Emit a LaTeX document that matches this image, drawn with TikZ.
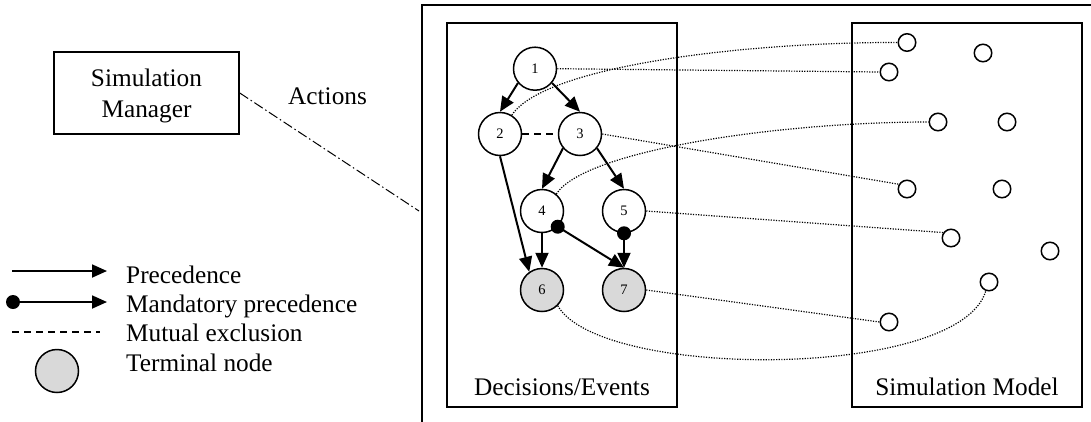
\documentclass[tikz,border=0pt]{standalone}
\usepackage{fontspec}
\setmainfont{Liberation Serif}
\usetikzlibrary{arrows.meta}
\begin{document}
\begin{tikzpicture}[x=1pt,y=-1pt,
  ev/.style={circle,draw,line width=1.5pt,minimum size=43pt,inner sep=0pt,font=\fontsize{14.5}{16}\selectfont},
  term/.style={ev,fill=gray!30},
  smc/.style={circle,draw,line width=1.5pt,minimum size=17.5pt,inner sep=0pt},
  prec/.style={line width=2pt,-{Triangle[length=15pt,width=13pt]}},
  mutex/.style={line width=1.4pt,dash pattern=on 7pt off 5pt},
  link/.style={line width=1.2pt,dash pattern=on 1.2pt off 1.4pt},
  frame/.style={draw,line width=1.5pt,inner sep=0pt},
  lbl/.style={font=\fontsize{25.3}{30.7}\selectfont,inner sep=0pt},
  mdot/.style={fill=black}
]
\useasboundingbox (0,0) rectangle (1091,421);
% outer frame (clipped)
\begin{scope}
\clip (0,0) rectangle (1091,421);
\draw[line width=1.3pt] (422,5) rectangle (1100,430);
\end{scope}

% Simulation manager
\node[frame,minimum width=185pt,minimum height=82pt,align=center,lbl,text depth=0pt] (mgr) at (146.5,93) {Simulation\\Manager};
\node[lbl,anchor=base west] (act) at (288,104) {Actions};
\coordinate (actend) at (419,211);
\draw[line width=1pt,dash pattern=on 10pt off 3pt on 1.5pt off 3pt] (mgr.east) -- (actend);

% boxes
\node[frame,minimum width=230pt,minimum height=384pt] (dec) at (562,215) {};
\node[frame,minimum width=230pt,minimum height=384pt] (mod) at (967,215) {};
\node[lbl,anchor=base] (dectxt) at (562,395) {Decisions/Events};
\node[lbl,anchor=base] (modtxt) at (967,395) {Simulation Model};

% event nodes
\node[ev] (n1) at (535,68.7) {1};
\node[ev] (n2) at (500,134) {2};
\node[ev] (n3) at (580,134) {3};
\node[ev] (n4) at (542,211) {4};
\node[ev] (n5) at (624,211) {5};
\node[term] (n6) at (542,290) {6};
\node[term] (n7) at (624,290) {7};

\draw[prec] (n1.220) -- (n2.north);
\draw[prec] (n1.320) -- (n3.north);
\draw[prec] (n3.220) -- (n4.north);
\draw[prec] (n3.320) -- (n5.north);
\draw[prec] (n2.south) -- (n6.125);
\draw[prec] (n4.south) -- (n6.north);
\draw[prec] (n4.-45) -- (n7.north);
\draw[prec] (n5.south) -- (n7.north);
\fill[mdot] (n4.-45) circle (7pt);
\fill[mdot] (n5.south) circle (7pt);
\draw[mutex] (n2.east) -- (n3.west);

% model nodes
\node[smc] (a) at (907,42.5) {};
\node[smc] (b) at (983,53) {};
\node[smc] (c) at (889,72) {};
\node[smc] (d) at (938,122) {};
\node[smc] (e) at (1007,122) {};
\node[smc] (f) at (907,189) {};
\node[smc] (g) at (1002,189) {};
\node[smc] (h) at (951,238) {};
\node[smc] (i) at (1050,251) {};
\node[smc] (j) at (989,282) {};
\node[smc] (k) at (889,322) {};

% links
\draw[link] (n1.east) -- (c.west);
\draw[link] (n2.58) .. controls (545,65) and (750,42) .. (a.west);
\draw[link] (n3.east) -- (f.150);
\draw[link] (n4.50) .. controls (585,150) and (780,122) .. (d.west);
\draw[link] (n5.east) -- (h.145);
\draw[link] (n7.east) -- (k.west);
\draw[link] (n6.-45) .. controls (600,380) and (960,380) .. (j.250);

% legend
\coordinate (l1a) at (12,271); \coordinate (l1b) at (107,271);
\coordinate (l2a) at (13,302); \coordinate (l2b) at (107,302);
\coordinate (l3a) at (12,332); \coordinate (l3b) at (100,332);
\draw[prec,line width=1.8pt] (l1a) -- (l1b);
\draw[prec,line width=1.8pt] (l2a) -- (l2b);
\fill[mdot] (l2a) circle (7pt);
\draw[mutex,line width=1.2pt] (l3a) -- (l3b);
\node[term] (l4) at (57,371) {};
\node[lbl,anchor=base west] (t1) at (126,283) {Precedence};
\node[lbl,anchor=base west] (t2) at (126,312) {Mandatory precedence};
\node[lbl,anchor=base west] (t3) at (126,341) {Mutual exclusion};
\node[lbl,anchor=base west] (t4) at (126,371) {Terminal node};
\end{tikzpicture}
\end{document}
